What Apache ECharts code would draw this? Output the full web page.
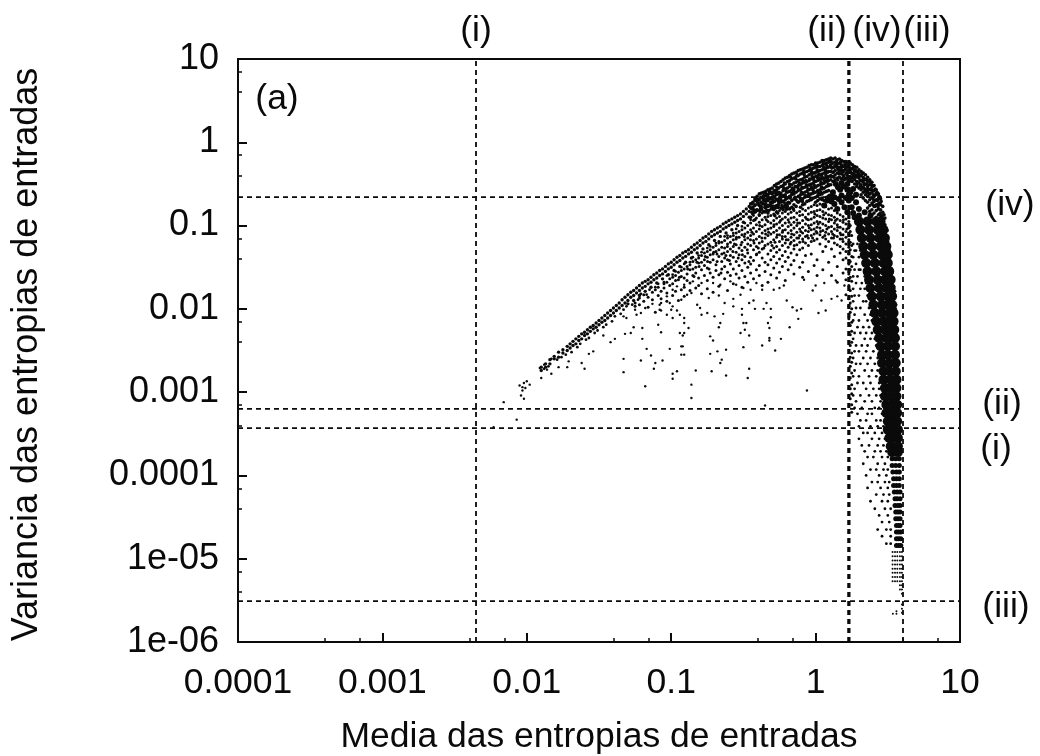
<!DOCTYPE html>
<html><head><meta charset="utf-8">
<style>html,body{margin:0;padding:0;background:#fff}#c{width:1040px;height:756px}</style>
<script src="https://cdn.jsdelivr.net/npm/echarts@6/dist/echarts.min.js"></script></head>
<body><div id="c"></div>
<script>
const xTitle = "Media das entropias de entradas";
const yTitle = "Variancia das entropias de entradas";
const xTickLabels = {"-4":"0.0001","-3":"0.001","-2":"0.01","-1":"0.1","0":"1","1":"10"};
const yTickLabels = {"-6":"1e-06","-5":"1e-05","-4":"0.0001","-3":"0.001","-2":"0.01","-1":"0.1","0":"1","1":"10"};
const verticalMarks = [0.00445, 1.68, 1.72, 4.03];
const horizontalMarks = [0.22, 0.00063, 0.00037, 3.1e-6];

// [log10 mean, log10 variance]
const sparsePoints = [[-2.16,-3.12],[-2.07,-3.33],[-2.23,-3.42],[-2.02,-3.08],[-2.04,-3.04],[-2.03,-2.98],[-2.05,-2.92],[-2.02,-2.89],[-1.98,-2.91],[-2.0,-2.87],[-2.03,-2.94],[-2.01,-2.95],
[-1.90,-2.83],[-1.91,-2.71],[-1.88,-2.67],[-1.86,-2.73],[-1.83,-2.78],[-1.78,-2.70],[-1.72,-2.70],[-1.71,-2.63],[-1.62,-2.65],[-1.60,-2.72],[-1.57,-2.54],[-1.54,-2.51],[-1.47,-2.32],[-1.42,-2.40],[-1.39,-2.36],[-1.33,-2.60],[-1.33,-2.76],[-1.32,-2.30],[-1.28,-2.29],[-1.26,-2.22],[-1.20,-2.23],[-1.20,-2.36],[-1.21,-2.62],[-1.17,-2.48],[-1.14,-2.56],[-1.11,-2.65],[-1.12,-2.72],[-1.06,-2.62],[-1.18,-2.93],[-1.09,-2.19],[-1.07,-2.28],[-1.01,-2.48],[-0.94,-2.29],[-0.91,-2.29],[-0.92,-2.32],[-0.93,-2.45],[-0.92,-2.45],[-0.93,-2.55],[-0.91,-2.55],[-0.99,-2.78],[-0.96,-2.75],[-0.99,-2.84],[-0.86,-2.91],[-0.86,-3.07],[-0.83,-2.74],[-0.73,-2.54],[-0.73,-2.33],[-0.71,-2.38],[-0.68,-2.51],[-0.62,-2.49],[-0.65,-2.61],[-0.66,-2.65],[-0.72,-2.75],[-0.62,-2.80],[-0.46,-2.72],[-0.47,-2.83],[-0.50,-2.46],[-0.37,-2.44],[-0.35,-3.16],[-0.32,-2.35],[-0.32,-2.23],[-0.33,-2.17],[-0.31,-2.10],[-0.46,-2.32],[-0.49,-2.25],[-0.52,-2.29],[-0.50,-2.17],[-0.48,-2.17],[-0.66,-2.17],[-0.67,-2.22],[-0.70,-2.09],[-0.64,-2.06],[-0.51,-2.07],[-0.51,-2.0],[-0.42,-2.0],[-0.36,-2.0],[-0.34,-1.93],[-0.31,-2.0],[-0.91,-2.17],[-0.88,-2.23],[-0.91,-2.11],[-0.96,-2.02],[-0.94,-2.07],[-0.99,-2.11],[-1.03,-2.07],[-1.07,-2.02],[-1.08,-2.01],[-1.01,-1.93],[-0.99,-1.97],[-1.0,-2.01],[-1.07,-1.93],[-1.08,-1.95],[-1.13,-1.94],[-1.18,-1.99],[-1.25,-2.01],[-1.24,-2.07],[-1.21,-2.05],[-1.33,-2.09],[-1.31,-2.11],[-0.82,-1.95],[-0.80,-1.99],[-0.75,-2.05],[-0.79,-2.07],[-0.93,-1.89],[-0.89,-1.83],[-0.86,-1.81],[-0.74,-1.87],[-0.67,-1.84],[-0.63,-1.93],[-0.57,-1.88],[-0.57,-1.97],[-0.46,-1.93],[-0.43,-1.90],[-0.52,-1.83],[-0.45,-1.77],[-0.50,-1.75],[-0.29,-1.77],[-0.25,-1.75],[-1.03,-1.85],[-0.99,-1.77],[-0.96,-1.73],[-0.91,-1.71],[-0.85,-1.67],[-0.79,-1.69],[-0.71,-1.69],[-0.66,-1.71],[-0.59,-1.67],[-0.55,-1.71],[-0.41,-1.69],[-0.37,-1.77],
[-0.28,-2.5],[-0.16,-1.98],[-0.13,-2.02],[-0.12,-2.12],[-0.1,-2.0],[-0.18,-2.22],[-0.24,-2.36],[-0.32,-2.38],[-0.06,-2.98],[0.02,-2.05],[0.07,-2.02],[0.04,-1.9],[0.11,-1.88],[0.15,-1.85],[0.18,-1.9],[-0.02,-1.78],[0.0,-1.72],[-0.08,-1.65],[0.06,-1.69],[0.14,-1.66],[0.2,-1.72],[-0.2,-1.9],[-0.22,-1.72]];

const bandColumns = [[-1.9,[-2.70,-2.74]],[-1.87,[-2.66,-2.7]],[-1.84,[-2.61,-2.66]],[-1.81,[-2.57,-2.6]],[-1.78,[-2.52,-2.58]],[-1.75,[-2.49,-2.53]],[-1.72,[-2.45,-2.5]],[-1.70,[-2.42,-2.47]],[-1.68,[-2.39,-2.44]],[-1.66,[-2.36,-2.42]],[-1.64,[-2.33,-2.38]],[-1.62,[-2.3,-2.36]],[-1.60,[-2.28,-2.32]],[-1.58,[-2.25,-2.3]],[-1.56,[-2.22,-2.27]],[-1.54,[-2.2,-2.24]],[-1.52,[-2.17,-2.22]],[-1.50,[-2.14,-2.19]],[-1.48,[-2.11,-2.16]],[-1.46,[-2.08,-2.14]],[-1.44,[-2.05,-2.11]],[-1.42,[-2.02,-2.08]],[-1.40,[-1.99,-2.05]],[-1.38,[-1.96,-2.02]],[-1.36,[-1.93,-1.99]],[-1.34,[-1.89,-1.96]],[-1.32,[-1.86,-1.93]],[-1.30,[-1.83,-1.9,-1.94]],[-1.28,[-1.8,-1.86]],[-1.26,[-1.78,-1.84,-1.9]],[-1.24,[-1.75,-1.81]],[-1.22,[-1.72,-1.78,-1.84]],[-1.20,[-1.69,-1.75]],[-1.18,[-1.67,-1.73,-1.79]],[-1.16,[-1.65,-1.7]],[-1.14,[-1.62,-1.68,-1.74]],[-1.12,[-1.59,-1.65]],[-1.10,[-1.57,-1.63,-1.69]],[-1.08,[-1.54,-1.6]],[-1.06,[-1.52,-1.58,-1.64]],[-1.04,[-1.49,-1.55]],[-1.02,[-1.46,-1.52,-1.59]],[-1.00,[-1.44,-1.5]],[-0.98,[-1.41,-1.47,-1.54]],[-0.96,[-1.38,-1.44]],[-0.94,[-1.36,-1.42,-1.49]],[-0.92,[-1.33,-1.39]],[-0.90,[-1.31,-1.37,-1.44]],[-0.88,[-1.29,-1.34]],[-0.86,[-1.26,-1.32,-1.39]],[-0.84,[-1.23,-1.29]],[-0.82,[-1.21,-1.27,-1.33]],[-0.80,[-1.18,-1.24]],[-0.78,[-1.15,-1.21,-1.28]],[-0.76,[-1.13,-1.19]],[-0.74,[-1.1,-1.16,-1.23]],[-0.72,[-1.07,-1.13]],[-0.70,[-1.05,-1.11,-1.18]],[-0.68,[-1.03,-1.09]],[-0.66,[-1.01,-1.07,-1.13]],[-0.64,[-0.98,-1.04]],[-0.62,[-0.96,-1.02,-1.09]],[-0.60,[-0.94,-1.0]],[-0.58,[-0.92,-0.98,-1.05]],[-0.56,[-0.9,-0.96]],[-0.54,[-0.88,-0.94,-1.0]],[-0.52,[-0.86,-0.92]],[-0.50,[-0.83,-0.89,-0.96]],[-0.48,[-0.8,-0.86]],[-0.46,[-0.77,-0.83,-0.9]],[-0.44,[-0.74,-0.8]],[-0.42,[-0.7,-0.76,-0.83]],[-0.40,[-0.68,-0.74]],[-0.38,[-0.66,-0.72,-0.78]],[-0.36,[-0.64,-0.7]],[-0.34,[-0.62,-0.68,-0.75]],[-0.32,[-0.61,-0.67]],[-0.30,[-0.6,-0.66,-0.73]],[-0.28,[-0.61,-0.67]],[-0.26,[-0.62,-0.69,-0.76]],[-0.24,[-0.64,-0.7]],[-0.22,[-0.65,-0.72,-0.78]],[-0.20,[-0.67,-0.73]]];

const bandExtra = [[-1.88,-2.72],[-1.85,-2.69],[-1.83,-2.6],[-1.79,-2.61],[-1.76,-2.58],[-1.73,-2.55],[-1.69,-2.52],[-1.65,-2.46],[-1.63,-2.42],[-1.59,-2.37],[-1.57,-2.35],[-1.53,-2.29],[-1.51,-2.26],[-1.47,-2.22],[-1.45,-2.19],[-1.41,-2.15],[-1.39,-2.09],[-1.35,-2.06],[-1.33,-2.01],[-1.31,-1.97],[-1.27,-1.95],[-1.23,-1.89],[-1.21,-1.82],[-1.17,-1.83],[-1.15,-1.77],[-1.11,-1.74],[-1.09,-1.7],[-1.05,-1.68],[-1.03,-1.6],[-0.99,-1.59],[-0.97,-1.55],[-0.93,-1.5],[-0.91,-1.46],[-0.87,-1.44],[-0.85,-1.38],[-0.81,-1.36],[-0.79,-1.32],[-0.75,-1.27],[-0.73,-1.25],[-0.69,-1.21],[-0.67,-1.19],[-0.63,-1.13],[-0.61,-1.12],[-0.57,-1.09],[-0.55,-1.04],[-0.51,-1.01],[-0.49,-0.97],[-0.45,-0.93],[-0.43,-0.88],[-0.39,-0.82]];

const midColumns = [
[-1.25,[-1.93,-1.97]],[-1.22,[-1.87,-1.95]],[-1.19,[-1.83,-1.91]],[-1.16,[-1.86,-1.98]],[-1.13,[-1.8,-1.89]],[-1.11,[-1.77,-2.04]],[-1.09,[-1.74,-1.84]],[-1.07,[-1.79,-1.88]],[-1.05,[-1.7,-1.75]],[-1.03,[-1.68,-1.81,-1.91]],[-1.01,[-1.64,-1.72]],[-0.99,[-1.62,-1.7,-1.84]],[-0.97,[-1.6,-1.66,-1.79]],[-0.95,[-1.56,-1.65,-1.9]],[-0.93,[-1.54,-1.61,-1.77]],[-0.91,[-1.52,-1.63,-1.74,-1.85]],[-0.89,[-1.49,-1.58,-1.66]],[-0.87,[-1.47,-1.53,-1.69,-1.78]],[-0.85,[-1.43,-1.52,-1.6]],[-0.83,[-1.41,-1.5,-1.57,-1.75]],[-0.81,[-1.39,-1.45,-1.63,-1.72]],[-0.79,[-1.36,-1.44,-1.53,-1.82]],[-0.77,[-1.33,-1.41,-1.48,-1.6]],[-0.75,[-1.31,-1.38,-1.51,-1.66,-1.76]],[-0.73,[-1.29,-1.35,-1.44,-1.57]],[-0.71,[-1.26,-1.34,-1.41,-1.62,-1.8]],[-0.69,[-1.24,-1.31,-1.47,-1.54]],[-0.67,[-1.21,-1.29,-1.37,-1.59,-1.73]],[-0.65,[-1.2,-1.26,-1.34,-1.43,-1.52]],[-0.63,[-1.18,-1.27,-1.39,-1.49,-1.64]],[-0.61,[-1.15,-1.22,-1.31,-1.41,-1.56,-1.78]],[-0.59,[-1.13,-1.2,-1.28,-1.36,-1.46,-1.6]],[-0.57,[-1.12,-1.17,-1.25,-1.38,-1.52,-1.7]],[-0.55,[-1.09,-1.16,-1.23,-1.32,-1.43,-1.58]],[-0.53,[-1.07,-1.14,-1.27,-1.35,-1.48,-1.63]],[-0.51,[-1.05,-1.11,-1.2,-1.3,-1.41,-1.54,-1.74]],[-0.49,[-1.03,-1.1,-1.17,-1.26,-1.37,-1.45,-1.61]],[-0.47,[-1.0,-1.08,-1.15,-1.22,-1.33,-1.5,-1.68]],[-0.45,[-0.97,-1.05,-1.12,-1.24,-1.38,-1.46,-1.57]],[-0.43,[-0.94,-1.03,-1.1,-1.18,-1.29,-1.42,-1.64]],[-0.41,[-0.91,-0.99,-1.07,-1.16,-1.25,-1.35,-1.53]],[-0.39,[-0.88,-0.96,-1.04,-1.13,-1.21,-1.32,-1.48,-1.6]],[-0.37,[-0.85,-0.93,-1.01,-1.09,-1.19,-1.28,-1.39,-1.72]],[-0.35,[-0.84,-0.9,-0.99,-1.06,-1.15,-1.24,-1.44,-1.55]],[-0.33,[-0.82,-0.89,-0.95,-1.04,-1.12,-1.22,-1.34,-1.47,-1.68]],[-0.31,[-0.8,-0.88,-0.97,-1.03,-1.1,-1.2,-1.3,-1.41,-1.59]],[-0.29,[-0.81,-0.86,-0.94,-1.01,-1.08,-1.17,-1.27,-1.37,-1.51]],[-0.27,[-0.83,-0.91,-0.98,-1.06,-1.14,-1.25,-1.32,-1.45,-1.63]],[-0.25,[-0.82,-0.89,-0.96,-1.03,-1.11,-1.19,-1.29,-1.4,-1.56]],[-0.23,[-0.85,-0.92,-1.0,-1.08,-1.16,-1.24,-1.36,-1.49]],[-0.21,[-0.83,-0.9,-0.97,-1.05,-1.13,-1.21,-1.31,-1.43,-1.66]],[-0.19,[-0.86,-0.93,-1.01,-1.09,-1.17,-1.26,-1.38,-1.53]],[-0.17,[-0.84,-0.91,-0.99,-1.06,-1.14,-1.2,-1.33,-1.47]],[-0.15,[-0.82,-0.9,-0.96,-1.03,-1.11,-1.18,-1.28,-1.42,-1.58]],[-0.13,[-0.85,-0.93,-1.0,-1.08,-1.15,-1.23,-1.35]],[-0.11,[-0.83,-0.88,-0.97,-1.04,-1.12,-1.2,-1.29,-1.5]],[-0.09,[-0.8,-0.87,-0.94,-1.02,-1.09,-1.16,-1.27,-1.44,-1.62]],[-0.07,[-0.82,-0.9,-0.98,-1.06,-1.13,-1.21,-1.36]],[-0.05,[-0.79,-0.86,-0.93,-1.0,-1.07,-1.15,-1.24,-1.55]],[-0.03,[-0.77,-0.84,-0.92,-0.99,-1.05,-1.12,-1.19,-1.34]],[-0.01,[-0.75,-0.83,-0.9,-0.97,-1.04,-1.1,-1.18,-1.48]],[0.01,[-0.76,-0.82,-0.88,-0.95,-1.02,-1.09,-1.16,-1.41,-1.6]],[0.03,[-0.74,-0.81,-0.89,-0.96,-1.03,-1.11,-1.22]],[0.05,[-0.75,-0.83,-0.91,-0.98,-1.06,-1.14,-1.31,-1.53]],[0.07,[-0.77,-0.85,-0.92,-1.0,-1.08,-1.16,-1.25]],[0.09,[-0.8,-0.87,-0.95,-1.02,-1.1,-1.19,-1.44]],[0.11,[-0.79,-0.88,-0.93,-1.01,-1.07,-1.15,-1.28,-1.6]],[0.13,[-0.82,-0.9,-0.97,-1.04,-1.12,-1.21,-1.37]],[0.15,[-0.85,-0.92,-0.99,-1.06,-1.13,-1.23,-1.49,-1.68]],[0.17,[-0.87,-0.94,-1.02,-1.09,-1.16,-1.25,-1.33]],[0.19,[-0.89,-0.96,-1.04,-1.11,-1.19,-1.28,-1.41,-1.57]],[0.21,[-0.92,-0.98,-1.07,-1.14,-1.22,-1.31,-1.39,-1.52,-1.65,-1.83]],[0.23,[-0.95,-1.03,-1.1,-1.17,-1.26,-1.34,-1.46,-1.58,-1.72,-1.88,-1.97,-2.12]],[0.24,[-1.0,-1.07,-1.2,-1.29,-1.43,-1.53,-1.62,-1.78,-1.93,-2.04,-2.2,-2.31,-2.44,-2.58,-2.69,-2.83,-2.96,-3.08]],
[0.25,[-1.12,-1.24,-1.37,-1.49,-1.67,-1.85,-2.0,-2.16,-2.27,-2.4,-2.53,-2.64,-2.77,-2.91,-3.02,-3.15,-3.24]]];

const midExtra = [[-0.943,-1.62],[-0.886,-1.52],[-0.842,-1.61],[-0.807,-1.49],[-0.764,-1.37],[-0.738,-1.52],[-0.706,-1.32],[-0.682,-1.43],[-0.655,-1.57],[-0.634,-1.33],[-0.611,-1.25],[-0.597,-1.42],[-0.573,-1.31],[-0.548,-1.14],[-0.536,-1.39],[-0.517,-1.23],[-0.494,-1.13],[-0.473,-1.29],[-0.462,-1.43],[-0.441,-1.08],[-0.426,-1.21],[-0.408,-1.34],[-0.387,-1.0],[-0.372,-1.15],[-0.358,-1.27],[-0.341,-0.93],[-0.326,-1.08],[-0.302,-1.24],[-0.288,-0.99],[-0.266,-1.11],[-0.243,-0.94],[-0.227,-1.06],[-0.203,-1.17],[-0.184,-0.96],[-0.166,-1.1],[-0.148,-1.24],[-0.124,-0.97],[-0.103,-1.07],[-0.087,-1.19],[-0.062,-0.92],[-0.044,-1.03],[-0.021,-1.15],[-0.006,-0.86],[0.018,-0.98],[0.034,-1.07],[0.056,-0.87],[0.078,-1.04],[0.095,-0.92],[0.118,-1.1],[0.137,-0.94],[0.153,-1.02],[0.176,-1.11],[0.193,-0.93],[0.216,-1.04],[-0.822,-1.44],[-0.748,-1.43],[-0.683,-1.34],[-0.621,-1.36],[-0.562,-1.22],[-0.507,-1.35],[-0.451,-1.17],[-0.397,-1.27],[-0.346,-1.1],[-0.281,-1.2],[-0.231,-1.13],[-0.176,-1.22],[-0.118,-1.15],[-0.058,-1.12],[0.004,-1.07],[0.064,-1.12],[0.124,-1.15],[0.186,-1.16]];

const domeColumns = [
[-0.45,[-0.74,-0.79,-0.9]],[-0.435,[-0.72,-0.78,-0.86]],[-0.42,[-0.68,-0.75,-0.84,-0.93]],[-0.405,[-0.65,-0.71,-0.81]],[-0.39,[-0.62,-0.69,-0.76,-0.87]],[-0.375,[-0.61,-0.66,-0.73,-0.8]],[-0.36,[-0.6,-0.67,-0.74,-0.83]],[-0.345,[-0.59,-0.64,-0.71,-0.79]],[-0.33,[-0.57,-0.63,-0.7,-0.77,-0.85]],[-0.315,[-0.56,-0.61,-0.68,-0.75]],[-0.30,[-0.55,-0.62,-0.66,-0.72,-0.8]],[-0.285,[-0.52,-0.58,-0.65,-0.71,-0.78]],[-0.27,[-0.5,-0.57,-0.63,-0.69,-0.76,-0.84]],[-0.255,[-0.49,-0.55,-0.6,-0.68,-0.74]],[-0.24,[-0.47,-0.53,-0.61,-0.66,-0.72,-0.79]],[-0.225,[-0.45,-0.52,-0.58,-0.64,-0.71,-0.81]],[-0.21,[-0.43,-0.5,-0.56,-0.63,-0.69,-0.75]],[-0.195,[-0.42,-0.47,-0.55,-0.6,-0.67,-0.77]],[-0.18,[-0.4,-0.46,-0.53,-0.59,-0.65,-0.73,-0.8]],[-0.165,[-0.38,-0.44,-0.51,-0.57,-0.63,-0.7,-0.78]],[-0.15,[-0.37,-0.43,-0.49,-0.56,-0.62,-0.68,-0.75]],[-0.135,[-0.36,-0.41,-0.48,-0.53,-0.6,-0.69,-0.77]],[-0.12,[-0.34,-0.4,-0.46,-0.52,-0.58,-0.65,-0.72]],[-0.105,[-0.33,-0.38,-0.45,-0.51,-0.57,-0.63,-0.7,-0.78]],[-0.09,[-0.32,-0.37,-0.44,-0.49,-0.55,-0.62,-0.68,-0.75]],[-0.075,[-0.31,-0.36,-0.42,-0.48,-0.54,-0.6,-0.66,-0.74]],[-0.06,[-0.3,-0.35,-0.41,-0.47,-0.53,-0.59,-0.65,-0.71]],[-0.045,[-0.28,-0.34,-0.39,-0.46,-0.51,-0.57,-0.64,-0.7]],[-0.03,[-0.27,-0.33,-0.38,-0.44,-0.5,-0.56,-0.62,-0.69]],[-0.015,[-0.27,-0.31,-0.37,-0.43,-0.49,-0.55,-0.61,-0.67]],[0.0,[-0.25,-0.3,-0.36,-0.41,-0.47,-0.54,-0.6,-0.66,-0.72]],[0.015,[-0.25,-0.29,-0.35,-0.4,-0.46,-0.52,-0.58,-0.64,-0.7]],[0.03,[-0.24,-0.29,-0.34,-0.39,-0.45,-0.51,-0.57,-0.63,-0.68]],[0.045,[-0.22,-0.28,-0.33,-0.38,-0.44,-0.5,-0.56,-0.62,-0.67]],[0.06,[-0.22,-0.26,-0.32,-0.37,-0.43,-0.49,-0.55,-0.6,-0.7]],[0.075,[-0.21,-0.25,-0.31,-0.36,-0.42,-0.47,-0.53,-0.59,-0.66]],[0.09,[-0.2,-0.24,-0.3,-0.35,-0.41,-0.46,-0.52,-0.58,-0.65]],[0.105,[-0.19,-0.23,-0.29,-0.35,-0.4,-0.45,-0.51]],[0.12,[-0.2,-0.25,-0.3,-0.36,-0.41,-0.47]],[0.135,[-0.19,-0.24,-0.28,-0.34,-0.39,-0.45]],[0.15,[-0.21,-0.26,-0.31,-0.37,-0.43]],[0.165,[-0.2,-0.25,-0.3,-0.35,-0.42]],[0.18,[-0.22,-0.27,-0.33,-0.38,-0.44]],[0.195,[-0.23,-0.29,-0.34,-0.4]],[0.21,[-0.23,-0.27,-0.32,-0.37,-0.43]],[0.225,[-0.25,-0.3,-0.36,-0.41]],[0.24,[-0.25,-0.31,-0.35,-0.41,-0.46]],[0.255,[-0.27,-0.32,-0.38,-0.43]],[0.27,[-0.29,-0.34,-0.39,-0.45,-0.5]],[0.285,[-0.3,-0.35,-0.41,-0.47,-0.53]],[0.30,[-0.33,-0.38,-0.43,-0.49,-0.55]],[0.315,[-0.35,-0.4,-0.46,-0.51,-0.57,-0.63]],[0.33,[-0.37,-0.42,-0.48,-0.54,-0.6,-0.67]],[0.345,[-0.39,-0.45,-0.5,-0.56,-0.63,-0.7]],[0.36,[-0.42,-0.47,-0.53,-0.59,-0.65,-0.72,-0.79]],[0.375,[-0.45,-0.51,-0.57,-0.62,-0.69,-0.76,-0.83]],[0.39,[-0.48,-0.54,-0.6,-0.67,-0.73,-0.81,-0.87]],[0.405,[-0.52,-0.58,-0.65,-0.71,-0.77,-0.85]],[0.42,[-0.57,-0.63,-0.69,-0.75,-0.82,-0.9]],[0.435,[-0.62,-0.68,-0.74,-0.8,-0.87,-0.95]],[0.45,[-0.68,-0.75,-0.81,-0.88,-0.96]],[0.465,[-0.77,-0.84,-0.92,-1.01]],[0.48,[-0.91,-0.99,-1.08,-1.17]],[0.495,[-1.06,-1.14,-1.26,-1.33]],[0.51,[-1.3,-1.42,-1.55]],[0.525,[-1.52,-1.61,-1.74]],[0.54,[-1.73,-1.86,-1.97,-2.08]],[0.555,[-1.95,-2.06,-2.18,-2.29]]];

const domeExtra = [[-0.412,-0.67],[-0.377,-0.77],[-0.352,-0.63],[-0.338,-0.82],[-0.318,-0.59],[-0.297,-0.69],[-0.283,-0.88],[-0.268,-0.54],[-0.247,-0.63],[-0.233,-0.76],[-0.216,-0.49],[-0.204,-0.59],[-0.188,-0.72],[-0.173,-0.42],[-0.159,-0.55],[-0.143,-0.66],[-0.128,-0.39],[-0.113,-0.49],[-0.097,-0.6],[-0.082,-0.35],[-0.068,-0.46],[-0.053,-0.56],[-0.038,-0.31],[-0.023,-0.41],[-0.008,-0.52],[0.008,-0.28],[0.023,-0.38],[0.038,-0.48],[0.052,-0.25],[0.068,-0.34],[0.083,-0.44],[0.098,-0.22],[0.112,-0.31],[0.127,-0.42],[0.143,-0.23],[0.158,-0.33],[0.172,-0.24],[0.187,-0.36],[0.203,-0.26],[0.218,-0.39],[0.232,-0.28],[0.248,-0.37],[0.263,-0.3],[0.278,-0.42],[0.293,-0.36],[0.307,-0.46],[0.322,-0.38],[0.338,-0.51],[0.352,-0.44],[0.367,-0.56],[0.383,-0.5],[0.398,-0.63],[0.413,-0.56],[0.428,-0.7],[0.443,-0.73],
[-0.427,-0.81],[-0.398,-0.74],[-0.363,-0.69],[-0.329,-0.66],[-0.306,-0.77],[-0.273,-0.6],[-0.258,-0.71],[-0.221,-0.55],[-0.208,-0.66],[-0.181,-0.5],[-0.164,-0.61],[-0.137,-0.44],[-0.122,-0.55],[-0.106,-0.67],[-0.079,-0.39],[-0.064,-0.51],[-0.048,-0.62],[-0.027,-0.36],[-0.011,-0.46],[0.011,-0.33],[0.026,-0.43],[0.041,-0.54],[0.057,-0.3],[0.072,-0.4],[0.087,-0.5],[0.103,-0.27],[0.119,-0.36],[0.132,-0.49],[0.148,-0.29],[0.163,-0.38],[0.178,-0.3],[0.191,-0.42],[0.207,-0.32],[0.223,-0.45],[0.238,-0.33],[0.253,-0.47],[0.268,-0.36],[0.284,-0.5],[0.298,-0.42],[0.312,-0.54],[0.327,-0.45],[0.342,-0.58],[0.357,-0.5],[0.372,-0.62],[0.387,-0.57],[0.402,-0.69],[0.417,-0.62],[0.432,-0.77],[0.447,-0.85],[0.463,-0.88],
[-0.386,-0.83],[-0.347,-0.75],[-0.311,-0.72],[-0.278,-0.79],[-0.241,-0.69],[-0.212,-0.77],[-0.176,-0.67],[-0.151,-0.59],[-0.126,-0.71],[-0.094,-0.54],[-0.071,-0.64],[-0.042,-0.44],[-0.017,-0.58],[0.014,-0.43],[0.036,-0.6],[0.062,-0.46],[0.084,-0.36],[0.109,-0.41],[0.128,-0.3],[0.154,-0.45],[0.171,-0.34],[0.199,-0.45],[0.221,-0.35],[0.244,-0.43],[0.261,-0.41],[0.289,-0.39],[0.309,-0.52],[0.334,-0.44],[0.354,-0.61],[0.378,-0.47],[0.396,-0.75],[0.426,-0.6],[0.454,-0.71],[0.474,-0.87],[0.483,-1.03],[0.499,-1.19],[0.506,-1.36],[0.518,-1.47],[0.529,-1.67],[0.547,-1.79],[0.552,-2.0],
[-0.323,-0.82],[-0.262,-0.85],[-0.197,-0.74],[-0.154,-0.8],[-0.091,-0.71],[-0.034,-0.67],[0.021,-0.61],[0.047,-0.69],[-0.141,-0.53],[-0.086,-0.47],[-0.031,-0.53],[-0.004,-0.37],[0.043,-0.41],[0.077,-0.28],[0.115,-0.25],[0.146,-0.25],[0.181,-0.28],[0.213,-0.29],[0.237,-0.41],[0.274,-0.33],[0.303,-0.4],[0.329,-0.55],[0.361,-0.56],[0.393,-0.52],[0.411,-0.77],[0.441,-0.65]];

const sideRows = [[-1.22,[.26,.29]],[-1.3,[.27,.31,.28]],[-1.38,[.26,.3]],[-1.46,[.28,.33]],[-1.53,[.27,.31,.3]],[-1.61,[.26,.29,.34]],[-1.69,[.28,.32,.35]],[-1.76,[.26,.31,.34]],[-1.84,[.27,.3,.36]],[-1.91,[.26,.33,.35]],[-1.99,[.28,.31,.37]],[-2.07,[.27,.34,.38]],[-2.14,[.26,.3,.36,.39]],[-2.22,[.29,.33,.37]],[-2.29,[.27,.31,.35,.39]],[-2.36,[.26,.34,.38,.41]],[-2.44,[.28,.32,.36,.42]],[-2.51,[.27,.3,.35,.4]],[-2.59,[.26,.33,.38,.43]],[-2.66,[.28,.31,.36,.41]],[-2.74,[.27,.34,.39,.43]],[-2.81,[.26,.3,.37,.42]],[-2.89,[.29,.33,.38,.44]],[-2.96,[.27,.35,.4,.44]],[-3.04,[.26,.31,.37,.42,.45]],[-3.11,[.28,.34,.39,.45]],[-3.19,[.27,.32,.41,.44]],[-3.26,[.29,.36,.39,.46]],[-3.34,[.31,.35,.42,.45]],[-3.41,[.3,.38,.43,.47]],[-3.49,[.33,.36,.41,.46]],[-3.56,[.3,.39,.44,.48]],[-3.64,[.32,.37,.43,.47]],[-3.71,[.34,.41,.45,.49]],[-3.78,[.36,.4,.46,.5]],[-3.86,[.33,.43,.48]],[-3.93,[.38,.42,.47,.5]],[-4.0,[.35,.44,.49]],[-4.08,[.39,.43,.48,.51]],[-4.15,[.36,.45,.5]],[-4.23,[.42,.47,.51]],[-4.31,[.38,.46,.5]],[-4.4,[.41,.48,.52]],[-4.48,[.44,.5]],[-4.56,[.46,.51]],[-4.65,[.43,.49,.52]],[-4.73,[.46,.52]],[-4.82,[.49,.52]]];

const blobPoints = [[0.14,-0.5],[0.18,-0.49],[0.22,-0.5],[0.26,-0.56],[0.22,-0.57],[0.17,-0.57],[0.12,-0.6],[0.28,-0.63],[0.23,-0.63],[0.18,-0.64],[0.13,-0.66],[0.08,-0.7],[0.28,-0.72],[0.23,-0.7],[0.18,-0.72],[0.13,-0.74],[0.06,-0.76],[0.3,-0.8],[0.25,-0.78],[0.2,-0.78],[0.15,-0.8],[0.34,-0.84],[0.3,-0.88],[0.38,-0.88],[0.26,-0.85],[0.22,-0.84],[0.155,-0.54],[0.195,-0.53],[0.24,-0.6],[0.1,-0.65],[0.16,-0.68],[0.21,-0.67],[0.25,-0.67],[0.11,-0.71],[0.27,-0.9]];
const ridgePoints = [[-0.44,-0.84],[-0.41,-0.82],[-0.38,-0.8],[-0.35,-0.78],[-0.32,-0.76],[-0.29,-0.77],[-0.26,-0.78],[-0.23,-0.79],[-0.2,-0.8]];

const coreRows = [[-0.95,[.30,.36,.42,.45]],[-1.05,[.31,.37,.43,.47]],[-1.15,[.32,.38,.44,.48]],[-1.25,[.33,.39,.45,.49]],[-1.35,[.34,.40,.46,.50]],[-1.45,[.35,.41,.47,.50]],[-1.55,[.36,.42,.48,.51]],[-1.65,[.37,.43,.48,.52]],[-1.75,[.38,.44,.49,.52]],[-1.85,[.39,.45,.50,.53]],[-1.95,[.40,.46,.50,.53]],[-2.05,[.41,.46,.51,.54]],[-2.15,[.42,.47,.51,.54]],[-2.25,[.43,.48,.52,.545]],[-2.35,[.44,.49,.52,.55]],[-2.45,[.45,.50,.55]],[-2.55,[.46,.50,.55]],[-2.65,[.46,.51,.555]],[-2.75,[.47,.51,.555]],[-2.85,[.47,.52,.56]],[-2.95,[.48,.52,.56]],[-3.05,[.48,.52,.56]],[-3.15,[.49,.53,.565]],[-3.25,[.49,.53,.565]],[-3.35,[.50,.53,.565]],[-3.45,[.50,.54,.57]],[-3.55,[.51,.54,.57]],[-3.65,[.52,.57]],[-3.72,[.53,.57]]];
const tailRows = [[-3.8,[.53,.555,.58]],[-3.88,[.53,.555,.58]],[-3.96,[.535,.56,.58]],[-4.04,[.54,.56,.58]],[-4.12,[.54,.56,.58]],[-4.2,[.545,.565,.585]],[-4.28,[.55,.565,.585]],[-4.36,[.55,.57,.585]],[-4.44,[.555,.57,.585]],[-4.52,[.555,.57,.585]],[-4.6,[.56,.575,.585]],[-4.68,[.56,.575,.59]],[-4.76,[.56,.575,.59]],[-4.84,[.56,.575,.59]]];
const stackColumns = [[0.533,[-4.92,-4.97,-5.02,-5.07,-5.12,-5.17,-5.22,-5.27]],[0.55,[-4.92,-4.97,-5.02,-5.07,-5.12,-5.17,-5.22,-5.27]],[0.566,[-4.92,-4.97,-5.02,-5.07,-5.12,-5.17,-5.22,-5.27]],[0.584,[-4.92,-4.97,-5.02,-5.07,-5.12,-5.17,-5.22,-5.27,-5.32,-5.37]],[0.598,[-4.92,-4.97,-5.02,-5.07,-5.12,-5.17,-5.22,-5.27,-5.32,-5.37,-5.42,-5.55,-5.6,-5.65]],[0.535,[-5.66]],[0.56,[-5.66,-5.63]]];

const toValue = ([lx, ly]) => [Math.pow(10, lx), Math.pow(10, ly)];
const fromColumns = cols => cols.flatMap(([lx, lys]) => lys.map(ly => toValue([lx, ly])));
const fromRows = rows => rows.flatMap(([ly, lxs]) => lxs.map(lx => toValue([lx, ly])));
const ink = "#0a0a0a", font = "Liberation Sans", fs = 35.5;
const xMin = 0.0001, xMax = 10, yMin = 1e-6, yMax = 10;

const dots = (data, size) => ({type:"scatter", data, symbolSize:size, silent:true, itemStyle:{color:ink, opacity:1}, animation:false, large:false});
const guide = data => ({type:"line", data, symbol:"none", silent:true, animation:false, lineStyle:{type:[5,4], color:ink, width:1.8}});
const chart = echarts.init(document.getElementById("c"), null, {renderer:"canvas"});
const axisCommon = {
  type:"log", logBase:10, nameLocation:"middle", splitLine:{show:false},
  nameTextStyle:{fontFamily:font, fontSize:fs, color:ink},
  axisLine:{show:true, onZero:false, lineStyle:{color:ink, width:2}},
  axisTick:{show:true, inside:true, length:9, lineStyle:{color:ink, width:2}},
  minorTick:{show:true, splitNumber:3, length:4, lineStyle:{color:ink, width:1.5}},
  axisLabel:{fontFamily:font, fontSize:fs, color:ink, showMinLabel:true, showMaxLabel:true}
};
const textAt = (text, x, y) => ({type:"text", x, y, style:{text, fontFamily:font, fontSize:fs, fill:ink, textAlign:"center", textVerticalAlign:"middle"}});
chart.setOption({
  animation:false, backgroundColor:"#fff",
  grid:{left:238, right:80, top:59, bottom:114, outerBoundsMode:"none", show:true, borderColor:ink, borderWidth:2, backgroundColor:"transparent"},
  xAxis:{...axisCommon, min:xMin, max:xMax, name:xTitle, nameGap:77, axisLabel:{...axisCommon.axisLabel, margin:23, formatter:v=>xTickLabels[Math.round(Math.log10(v))]}},
  yAxis:{...axisCommon, min:yMin, max:yMax, name:yTitle, nameGap:193, nameTextStyle:{fontFamily:font, fontSize:36, color:ink, padding:[0,8,0,0]},
    axisLabel:{...axisCommon.axisLabel, fontSize:36, margin:19, padding:[10,0,0,0], formatter:v=>yTickLabels[Math.round(Math.log10(v))]}},
  graphic:[textAt("(i)",476,31),textAt("(ii)",827,31),textAt("(iv)",877,31),textAt("(iii)",927,31),textAt("(a)",277,99),
           textAt("(iv)",1010,205),textAt("(ii)",1002,404),textAt("(i)",996,449),textAt("(iii)",1006,607)],
  series:[
    ...verticalMarks.map(v=>guide([[v,yMin],[v,yMax]])),
    ...horizontalMarks.map(v=>guide([[xMin,v],[xMax,v]])),
    dots(sparsePoints.map(toValue),2.4),
    dots(fromColumns(midColumns),3),
    dots(midExtra.map(toValue),3),
    dots(fromRows(sideRows),2.8),
    dots(fromColumns(domeColumns),3.6),
    dots(domeExtra.map(toValue),3.6),
    dots(fromColumns(bandColumns),3.4),
    dots(bandExtra.map(toValue),2.8),
    dots(ridgePoints.map(toValue),4),
    dots(blobPoints.map(toValue),6),
    dots(fromRows(coreRows),10),
    dots(fromRows(tailRows),5),
    dots(fromColumns(stackColumns),2)
  ]
});
</script></body></html>
